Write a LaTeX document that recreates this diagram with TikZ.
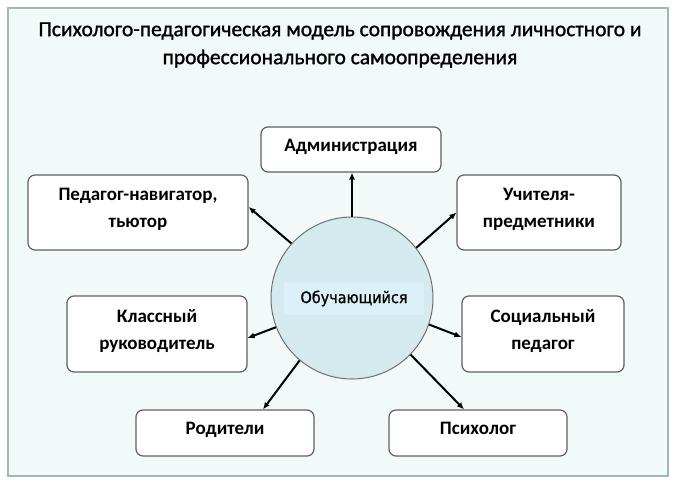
\documentclass[tikz,border=0pt]{standalone}
\usepackage{fontspec}
\setmainfont{Carlito}
\newfontfamily\titlefont[FakeBold=1.2]{Carlito}
\newfontfamily\lblfont[FakeBold=1]{DejaVu Sans Condensed}
\usetikzlibrary{arrows.meta,calc}
\definecolor{bgfill}{HTML}{F2F9F9}
\definecolor{framecol}{HTML}{A0B8B8}
\definecolor{circfill}{HTML}{D5EAEE}
\definecolor{circline}{HTML}{707070}
\definecolor{lblfill}{HTML}{DCF1F7}
\definecolor{boxline}{HTML}{606060}
\newcommand\dpstrut{\rule[-9pt]{0pt}{9pt}}
\begin{document}
\begin{tikzpicture}[x=1pt,y=-1pt,
  rolebox/.style={draw=boxline, line width=1.2pt, fill=white, rounded corners=7pt,
    align=center, font=\bfseries\fontsize{19}{27}\selectfont, inner sep=2pt},
  link/.style={line width=2pt, -{Latex[length=7pt,width=6pt]}}]
\useasboundingbox (0,0) rectangle (678,483);
\draw[fill=bgfill, draw=framecol, line width=2pt] (8,8) rectangle (668,476);
\node[align=center, font=\titlefont\fontsize{21.5}{28}\selectfont] (title) at (340,45)
  {Психолого-педагогическая модель сопровождения личностного и\\профессионального самоопределения};
\node[rolebox, minimum width=180pt, minimum height=45pt] (adm) at (351,149.5) {Администрация\dpstrut};
\node[rolebox, minimum width=220pt, minimum height=75pt] (ped) at (138,212.5) {Педагог-навигатор,\\тьютор\dpstrut};
\node[rolebox, minimum width=164pt, minimum height=75pt] (uch) at (539,212.5) {Учителя-\\предметники\dpstrut};
\node[rolebox, minimum width=180pt, minimum height=76pt] (kl) at (157,334) {Классный\\руководитель\dpstrut};
\node[rolebox, minimum width=162pt, minimum height=76pt] (soc) at (543,334) {Социальный\\педагог\dpstrut};
\node[rolebox, minimum width=178pt, minimum height=46pt] (rod) at (225,433) {Родители\dpstrut};
\node[rolebox, minimum width=178pt, minimum height=46pt] (psi) at (478,433) {Психолог\dpstrut};
\node[circle, draw=circline, fill=circfill, line width=1pt, minimum size=162pt, inner sep=0pt] (c) at (352,298) {};
\node[fill=lblfill, minimum width=140pt, minimum height=33pt, inner sep=0pt,
  font=\lblfont\fontsize{16}{18}\selectfont] (lbl) at (354,298.5) {Обучающийся};
\draw[link] (c.north) -- (c.north |- adm.south);
\draw[link] (c.138.3) -- ($(ped.east)+(0,-5.5)$);
\draw[link] (c.38.7) -- (uch.west);
\draw[link] (c.201.4) -- ($(kl.east)+(0,4)$);
\draw[link] (c.-19.9) -- ($(soc.west)+(0,3)$);
\draw[link] (c.230.8) -- ($(rod.north)+(38,0)$);
\draw[link] (c.-44.5) -- ($(psi.north)+(-14,0)$);
\end{tikzpicture}
\end{document}
